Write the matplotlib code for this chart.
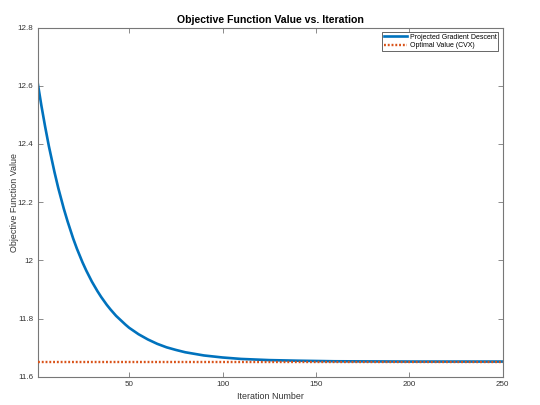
import matplotlib
matplotlib.use("Agg")
import matplotlib.pyplot as plt

plt.rcParams['font.family'] = ['Liberation Sans', 'DejaVu Sans']

# values
iterations = [1, 3, 5, 7, 10, 12, 15, 17, 20, 22, 25, 27, 30, 33, 35, 38, 40,
              43, 45, 48, 50, 55, 60, 65, 70, 75, 80, 90, 100, 110, 125, 140,
              160, 200, 250]
objective = [12.610, 12.531, 12.459, 12.392, 12.303, 12.249, 12.177, 12.134,
             12.075, 12.040, 11.993, 11.965, 11.927, 11.894, 11.874, 11.847,
             11.831, 11.809, 11.797, 11.779, 11.768, 11.746, 11.728, 11.713,
             11.701, 11.692, 11.684, 11.673, 11.666, 11.661, 11.657, 11.655,
             11.653, 11.652, 11.652]
optimal_value = 11.652

xticks = [50, 100, 150, 200, 250]
yticks = [11.6, 11.8, 12.0, 12.2, 12.4, 12.6, 12.8]
ytick_labels = ["11.6", "11.8", "12", "12.2", "12.4", "12.6", "12.8"]

fig = plt.figure(figsize=(5.4, 4.05), dpi=100)
ax = fig.add_axes([0.0698, 0.0699, 0.861, 0.862])

ax.plot(iterations, objective, color='#0072BD', lw=1.9,
        label='Projected Gradient Descent', zorder=2)
ax.plot([iterations[0], iterations[-1]], [optimal_value, optimal_value],
        color='#D95319', lw=1.7, linestyle=(0, (0.8, 0.8)),
        label='Optimal Value (CVX)', zorder=3)

ax.set_xlim(1, 250)
ax.set_ylim(11.6, 12.8)
ax.set_xticks(xticks)
ax.set_yticks(yticks)
ax.set_yticklabels(ytick_labels)

grey = '#4d4d4d'
for s in ax.spines.values():
    s.set_color('#777777')
    s.set_linewidth(0.8)
ax.tick_params(direction='in', length=3.5, width=0.6, colors='#777777',
               labelcolor='#333333', labelsize=5.8, pad=3,
               top=True, right=True)

ax.set_title('Objective Function Value vs. Iteration', fontsize=7.6,
             fontweight='bold', pad=3)
ax.set_xlabel('Iteration Number', fontsize=6.4, color='#333333', labelpad=3)
ax.set_ylabel('Objective Function Value', fontsize=6.4, color='#333333',
              labelpad=-1)

leg = ax.legend(loc='upper right', fontsize=5, fancybox=False,
                framealpha=1, edgecolor=grey, borderaxespad=0.6,
                handlelength=3.4, handletextpad=0.3, borderpad=0.3,
                labelspacing=0.2)
leg.get_frame().set_linewidth(0.6)

fig.savefig('out.png', dpi=100)
